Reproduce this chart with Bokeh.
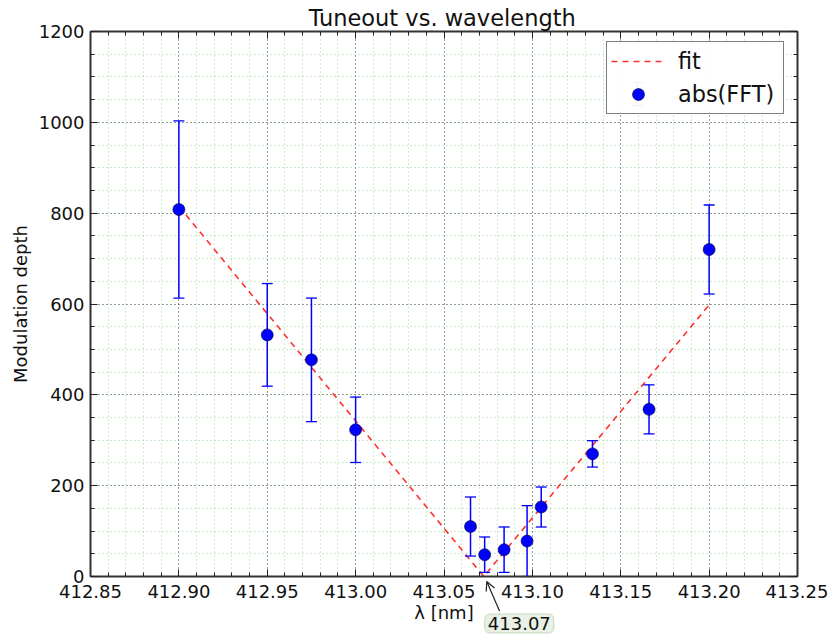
import math
from bokeh.plotting import figure
from bokeh.models import (Range1d, FixedTicker, LinearAxis, PrintfTickFormatter, CustomJSTickFormatter,
                          Legend, LegendItem, Label, Arrow, OpenHead, TeeHead, ColumnDataSource)
from bokeh.embed import file_html
from bokeh.resources import INLINE

# ---- data ----
wavelength = [412.900, 412.950, 412.975, 413.000, 413.065, 413.073,
              413.084, 413.097, 413.105, 413.134, 413.166, 413.200]
depth = [808, 532, 477, 323, 110, 48, 59, 78, 153, 270, 368, 720]
depth_err = [195, 113, 136, 72, 65, 39, 50, 78, 44, 29, 54, 98]

fit_x = [412.900, 413.0725, 413.200]
fit_y = [815, 0, 598]

x_ticks = [412.85, 412.90, 412.95, 413.00, 413.05, 413.10, 413.15, 413.20, 413.25]
x_minor = [round(412.85 + 0.01 * i, 2) for i in range(41)]
y_ticks = [0, 200, 400, 600, 800, 1000, 1200]
y_minor = list(range(0, 1201, 50))

tuneout_x = 413.0725
tuneout_text = "413.07"
title_text = "Tuneout vs. wavelength"
x_label = "λ [nm]"
y_label = "Modulation depth"

FONT = "DejaVu Sans"
X0, X1 = 412.85, 413.25       # axis extent
Y0, Y1 = 0, 1200
# the frame covers the whole canvas so that tick labels, the title and the
# annotation outside the axes box are not clipped
PX_PER_X = 707 / 0.4
PX_PER_Y = 545 / 1200
XR = (X0 - 90 / PX_PER_X, X1 + 31 / PX_PER_X)
YR = (Y0 - 59 / PX_PER_Y, Y1 + 31 / PX_PER_Y)

lower = [d - e for d, e in zip(depth, depth_err)]
upper = [d + e for d, e in zip(depth, depth_err)]
src = ColumnDataSource(dict(x=wavelength, y=depth, lo=lower, hi=upper))

p = figure(width=828, height=635, output_backend="svg", toolbar_location=None,
           x_range=Range1d(*XR), y_range=Range1d(*YR),
           min_border_left=0, min_border_right=0, min_border_top=0,
           min_border_bottom=0)
p.background_fill_color = "white"
p.border_fill_color = "white"
p.outline_line_color = None

xb = p.below[0]
yl = p.left[0]

# axes
xt = FixedTicker(ticks=x_ticks, minor_ticks=x_minor)
yt = FixedTicker(ticks=y_ticks, minor_ticks=y_minor)
xb.ticker = xt
xb.formatter = PrintfTickFormatter(format="%.2f")
xb.fixed_location = Y0
xb.bounds = (X0, X1)
xb.axis_label = None
yl.ticker = yt
yl.fixed_location = X0
yl.bounds = (Y0, Y1)
yl.axis_label = None

blank = CustomJSTickFormatter(code="return '';")
top_ax = LinearAxis(ticker=xt, formatter=blank, bounds=(X0, X1), fixed_location=Y1)
right_ax = LinearAxis(ticker=yt, formatter=blank, bounds=(Y0, Y1), fixed_location=X1)
p.add_layout(top_ax, "above")
p.add_layout(right_ax, "right")

for ax in [xb, yl, top_ax, right_ax]:
    ax.major_tick_in = 7
    ax.major_tick_out = 0
    ax.minor_tick_in = 4
    ax.minor_tick_out = 0
    ax.axis_line_color = "#333333"
    ax.axis_line_width = 2
    ax.major_tick_line_color = "#222222"
    ax.minor_tick_line_color = "#222222"
    ax.major_label_text_font = FONT
    ax.major_label_text_color = "#111111"
    ax.major_label_text_font_size = "18px"
xb.major_label_standoff = 8
yl.major_label_standoff = 6
for ax in [top_ax, right_ax]:
    ax.major_label_standoff = 0
    ax.major_label_text_font_size = "1px"

# grids
for g in [p.xgrid[0], p.ygrid[0]]:
    g.grid_line_color = "#333333"
    g.grid_line_dash = "1 3"
    g.grid_line_width = 1
    g.grid_line_alpha = 0.8
    g.minor_grid_line_color = "#7fcf7f"
    g.minor_grid_line_dash = "1 3"
    g.minor_grid_line_width = 1
    g.minor_grid_line_alpha = 0.8
p.xgrid[0].ticker = xt
p.ygrid[0].ticker = yt
p.xgrid[0].bounds = (X0, X1)
p.ygrid[0].bounds = (Y0, Y1)
p.xgrid[0].cross_bounds = (Y0, Y1)
p.ygrid[0].cross_bounds = (X0, X1)

# fit line
fit_r = p.line(fit_x, fit_y, line_color="#ff3030", line_dash="6 5", line_width=1.6)

# error bars
bars_r = p.segment(x0="x", y0="lo", x1="x", y1="hi", source=src,
                   line_color="blue", line_width=1.5)
p.scatter(x="x", y="lo", source=src, marker="dash", size=11, line_color="blue", line_width=1.3)
p.scatter(x="x", y="hi", source=src, marker="dash", size=11, line_color="blue", line_width=1.3)
pts_r = p.scatter(x="x", y="y", source=src, marker="circle", size=12,
                  fill_color="blue", line_color="#000033", line_width=0.6)

legend = Legend(items=[LegendItem(label="fit", renderers=[fit_r]),
                       LegendItem(label="abs(FFT)", renderers=[pts_r])],
                location=(606, 521))
legend.label_text_font = FONT
legend.label_text_font_size = "22.4px"
legend.label_text_color = "#111111"
legend.border_line_color = "black"
legend.border_line_width = 1.5
legend.padding = 4
legend.spacing = 3
legend.glyph_width = 54
legend.glyph_height = 30
legend.label_standoff = 13
legend.label_height = 30
legend.label_width = 101
p.add_layout(legend)

# error-bar icon in the legend (screen units, relative to the frame)
p.add_layout(Arrow(start=TeeHead(size=10, line_color="blue", line_width=1.3),
                   end=TeeHead(size=10, line_color="blue", line_width=1.3),
                   x_start=637, y_start=530, x_end=637, y_end=553,
                   start_units="screen", end_units="screen",
                   line_color="blue", line_width=1.5, level="overlay"))

# title and axis labels
p.add_layout(Label(x=X0 + 351.7 / PX_PER_X, y=Y1 + 14 / PX_PER_Y, text=title_text,
                   text_align="center", text_baseline="middle", text_font=FONT,
                   text_font_size="22.5px", text_color="#111111"))
p.add_layout(Label(x=(X0 + X1) / 2, y=-79, text=x_label, text_align="center",
                   text_baseline="middle", text_font=FONT, text_font_size="18px",
                   text_color="#111111"))
p.add_layout(Label(x=X0 - 70 / PX_PER_X, y=(Y0 + Y1) / 2, text=y_label, angle=math.pi / 2,
                   text_align="center", text_baseline="middle", text_font=FONT,
                   text_font_size="18px", text_color="#111111"))

# annotation of the tuneout point
p.add_layout(Arrow(end=OpenHead(size=9, line_color="#222222", line_width=1.2),
                   x_start=413.0814, y_start=-76, x_end=tuneout_x + 0.0017, y_end=-11,
                   line_color="#222222", line_width=1.2, level="overlay"))
p.add_layout(Label(x=413.0926, y=-103.5, text=tuneout_text, text_align="center",
                   text_baseline="middle", text_font=FONT, text_font_size="18px",
                   text_color="#111111", level="overlay",
                   background_fill_color="#e8f1e4", border_line_color="#c5d8c0",
                   border_line_width=1, padding=3, border_radius=5))

open("out.html", "w").write(file_html(p, INLINE))
